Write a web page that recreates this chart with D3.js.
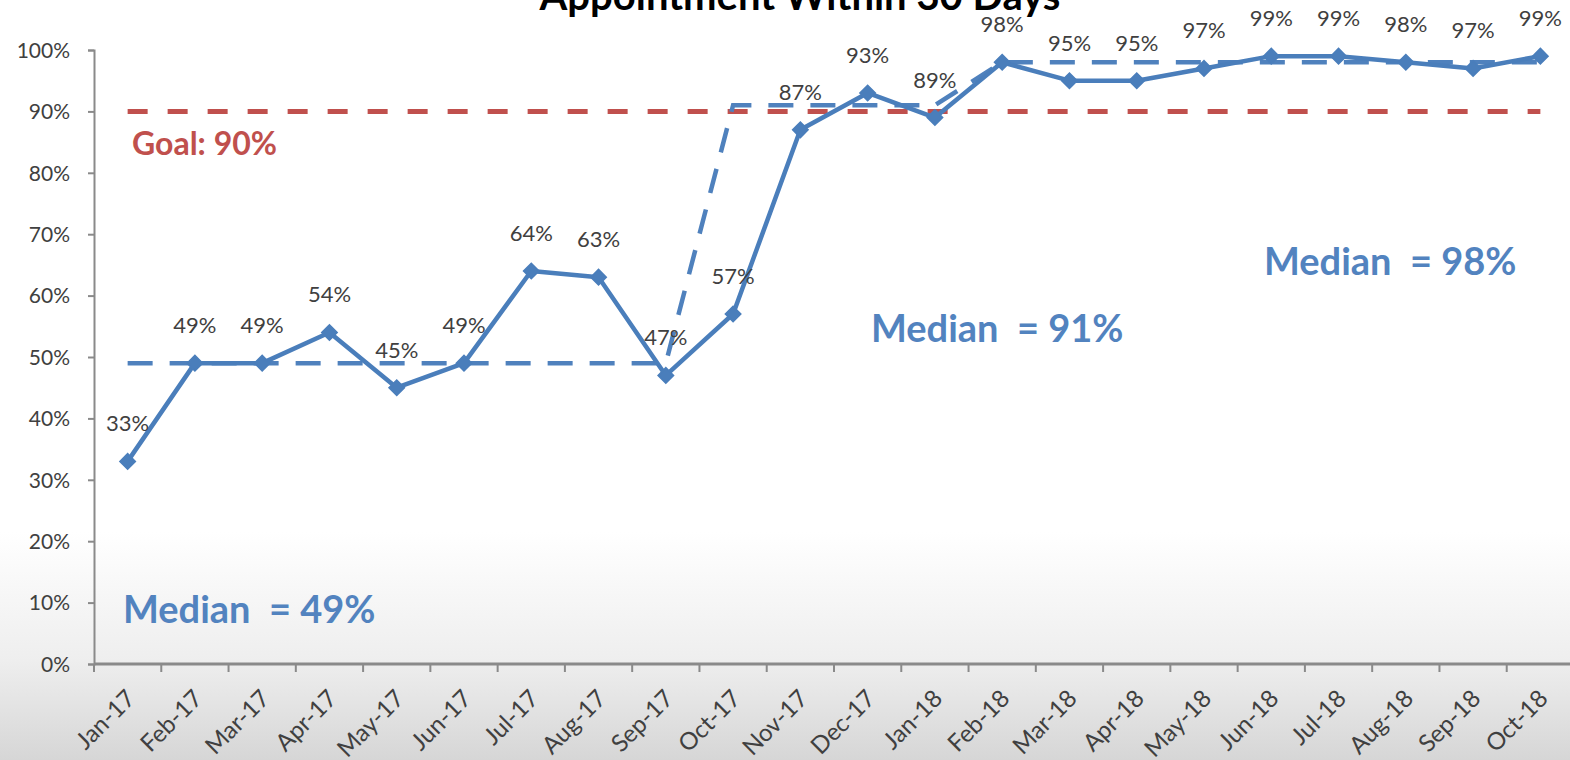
<!DOCTYPE html>
<html>
<head>
<meta charset="utf-8">
<script src="https://cdn.jsdelivr.net/npm/d3@7/dist/d3.min.js"></script>
<style>
  html, body { margin: 0; padding: 0; background: #fff; }
  svg { display: block; font-family: Lato, "Open Sans", sans-serif; }
</style>
</head>
<body>
<svg id="chart" width="1570" height="760"></svg>
<script>
// Monthly share of patients seen within 30 days
const months = ["Jan-17","Feb-17","Mar-17","Apr-17","May-17","Jun-17","Jul-17","Aug-17","Sep-17","Oct-17","Nov-17",
                "Dec-17","Jan-18","Feb-18","Mar-18","Apr-18","May-18","Jun-18","Jul-18","Aug-18","Sep-18","Oct-18"];
const pctValues = [33,49,49,54,45,49,64,63,47,57,87,93,89,98,95,95,97,99,99,98,97,99];
// Median of each phase, one value per month
const medianValues = [49,49,49,49,49,49,49,49,49,91,91,91,91,98,98,98,98,98,98,98,98,98];
const goalValue = 90;
const yTicks = [0,10,20,30,40,50,60,70,80,90,100];
const titleText = "Appointment Within 30 Days";
const notes = [
  { text: "Median  = 49%", x: 123, y: 623, color: "#5283BF", size: 38 },
  { text: "Median  = 91%", x: 871, y: 342, color: "#5283BF", size: 38 },
  { text: "Median  = 98%", x: 1264, y: 275, color: "#5283BF", size: 38 },
  { text: "Goal: 90%", x: 132, y: 155, color: "#C0504D", size: 32 }
];

const W = 1570, H = 760;
const plot = { left: 94, right: 1574, top: 50, bottom: 664 };
const svg = d3.select("#chart");

// background: white fading to light grey near the bottom
const defs = svg.append("defs");
const grad = defs.append("linearGradient").attr("id", "bg").attr("x1", 0).attr("y1", 0).attr("x2", 0).attr("y2", 1);
grad.append("stop").attr("offset", 0).attr("stop-color", "#ffffff");
grad.append("stop").attr("offset", 0.70).attr("stop-color", "#ffffff");
grad.append("stop").attr("offset", 0.87).attr("stop-color", "#eeeeee");
grad.append("stop").attr("offset", 1).attr("stop-color", "#d6d6d6");
svg.append("rect").attr("width", W).attr("height", H).attr("fill", "url(#bg)");

const x = d3.scaleBand().domain(months).range([plot.left, plot.right]).padding(0);
const cx = m => x(m) + x.bandwidth() / 2;
const y = d3.scaleLinear().domain([0, 100]).range([plot.bottom, plot.top]);

// title
svg.append("text").attr("x", 800).attr("y", 10).attr("text-anchor", "middle")
  .attr("font-size", 40).attr("font-weight", 700).attr("fill", "#000").text(titleText);

// y axis
const yAxis = d3.axisLeft(y).tickValues(yTicks).tickFormat(d => d + "%").tickSize(6).tickPadding(18);
const gy = svg.append("g").attr("transform", `translate(${plot.left},0)`).call(yAxis);
gy.select(".domain").attr("stroke", "#8a8a8a").attr("stroke-width", 2);
gy.selectAll(".tick line").attr("stroke", "#8a8a8a").attr("stroke-width", 2);
gy.selectAll(".tick text").attr("font-size", 21).attr("fill", "#404040")
  .attr("font-family", "Lato, sans-serif").attr("dy", "0.35em");

// x axis: ticks sit on the month boundaries
const boundaries = months.map(m => x(m));
svg.append("line").attr("x1", plot.left).attr("x2", W).attr("y1", plot.bottom).attr("y2", plot.bottom)
  .attr("stroke", "#8a8a8a").attr("stroke-width", 3);
svg.append("g").selectAll("line").data(boundaries).join("line")
  .attr("x1", d => d).attr("x2", d => d).attr("y1", plot.bottom).attr("y2", plot.bottom + 8)
  .attr("stroke", "#8a8a8a").attr("stroke-width", 2);
svg.append("g").selectAll("text").data(months).join("text")
  .attr("transform", d => `translate(${cx(d) + 3},${plot.bottom + 30}) rotate(-45)`)
  .attr("text-anchor", "end").attr("dy", "0.35em")
  .attr("font-size", 24).attr("fill", "#404040").text(d => d);

// goal line
svg.append("line")
  .attr("x1", cx(months[0])).attr("x2", cx(months[months.length - 1]))
  .attr("y1", y(goalValue)).attr("y2", y(goalValue))
  .attr("stroke", "#C0504D").attr("stroke-width", 5).attr("stroke-dasharray", "20 20");

// median (stepped) line
const line = d3.line().x((d, i) => cx(months[i])).y(d => y(d));
svg.append("path").datum(medianValues).attr("d", line)
  .attr("fill", "none").attr("stroke", "#4F81BD").attr("stroke-width", 4.5)
  .attr("stroke-dasharray", "25 17");

// data line
svg.append("path").datum(pctValues).attr("d", line)
  .attr("fill", "none").attr("stroke", "#4A7EBB").attr("stroke-width", 4.5)
  .attr("stroke-linejoin", "round");

// diamond markers
const diamond = d3.symbol().type(d3.symbolSquare).size(120);
svg.append("g").selectAll("path").data(pctValues).join("path")
  .attr("d", diamond)
  .attr("transform", (d, i) => `translate(${cx(months[i])},${y(d)}) rotate(45)`)
  .attr("fill", "#4A7EBB").attr("stroke", "#4A7EBB").attr("stroke-width", 1.5);

// value labels
svg.append("g").selectAll("text").data(pctValues).join("text")
  .attr("x", (d, i) => cx(months[i])).attr("y", d => y(d) - 30)
  .attr("text-anchor", "middle").attr("font-size", 22).attr("fill", "#404040")
  .text(d => d + "%");

// annotations
svg.append("g").selectAll("text").data(notes).join("text")
  .attr("x", d => d.x).attr("y", d => d.y)
  .attr("font-size", d => d.size).attr("font-weight", 700).attr("fill", d => d.color)
  .attr("xml:space", "preserve").style("white-space", "pre")
  .text(d => d.text);
</script>
</body>
</html>
